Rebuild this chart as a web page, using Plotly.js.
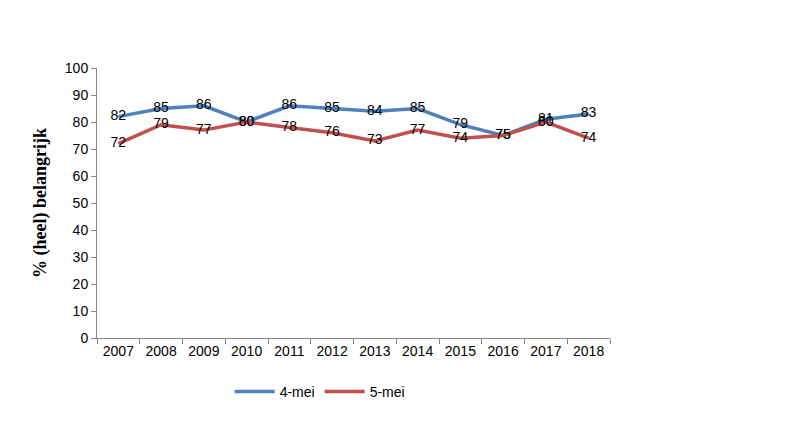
<!DOCTYPE html>
<html><head><meta charset="utf-8">
<script src="https://cdn.plot.ly/plotly-3.0.1.min.js"></script>
<style>html,body{margin:0;padding:0;background:#fff}#chart{width:786px;height:436px}</style>
</head><body><div id="chart"></div>
<script>
var years = ['2007','2008','2009','2010','2011','2012','2013','2014','2015','2016','2017','2018'];
var mei4 = [82,85,86,80,86,85,84,85,79,75,81,83];
var mei5 = [72,79,77,80,78,76,73,77,74,75,80,74];
var yTicks = [0,10,20,30,40,50,60,70,80,90,100];
var font = 'Liberation Sans, Arial, sans-serif';
function tr(name, vals, color){
  return {x: years, y: vals, name: name, type: 'scatter', mode: 'lines+text',
    text: vals.map(String), textposition: 'middle center',
    textfont: {family: font, size: 14, color: '#000'},
    line: {color: color, width: 3.5}, cliponaxis: false};
}
var data = [tr('4-mei', mei4, '#4F81BD'), tr('5-mei', mei5, '#C0504D')];
var layout = {
  width: 786, height: 436,
  margin: {l: 97, r: 176, t: 68, b: 98},
  paper_bgcolor: '#fff', plot_bgcolor: '#fff',
  font: {family: font, size: 14, color: '#000'},
  showlegend: true,
  legend: {orientation: 'h', x: 0.435, xanchor: 'center', y: -0.14, yanchor: 'top',
    font: {family: font, size: 14}, itemwidth: 40, traceorder: 'normal'},
  xaxis: {type: 'category', range: [-0.5, 11.5], showline: true, linecolor: '#888', linewidth: 1,
    ticks: 'outside', tickson: 'boundaries', ticklen: 5, tickcolor: '#888', showgrid: false,
    zeroline: false, tickfont: {family: font, size: 14}},
  yaxis: {range: [0, 100], tickvals: yTicks, showline: true, linecolor: '#888', linewidth: 1,
    ticks: 'outside', ticklen: 5, tickcolor: '#888', showgrid: false, zeroline: false,
    tickfont: {family: font, size: 14},
    title: {text: '% (heel) belangrijk', font: {family: 'Liberation Serif, Times New Roman, serif', size: 18, color: '#000', weight: 'bold'}, standoff: 13}}
};
Plotly.newPlot('chart', data, layout, {displayModeBar: false, staticPlot: true});
</script></body></html>
